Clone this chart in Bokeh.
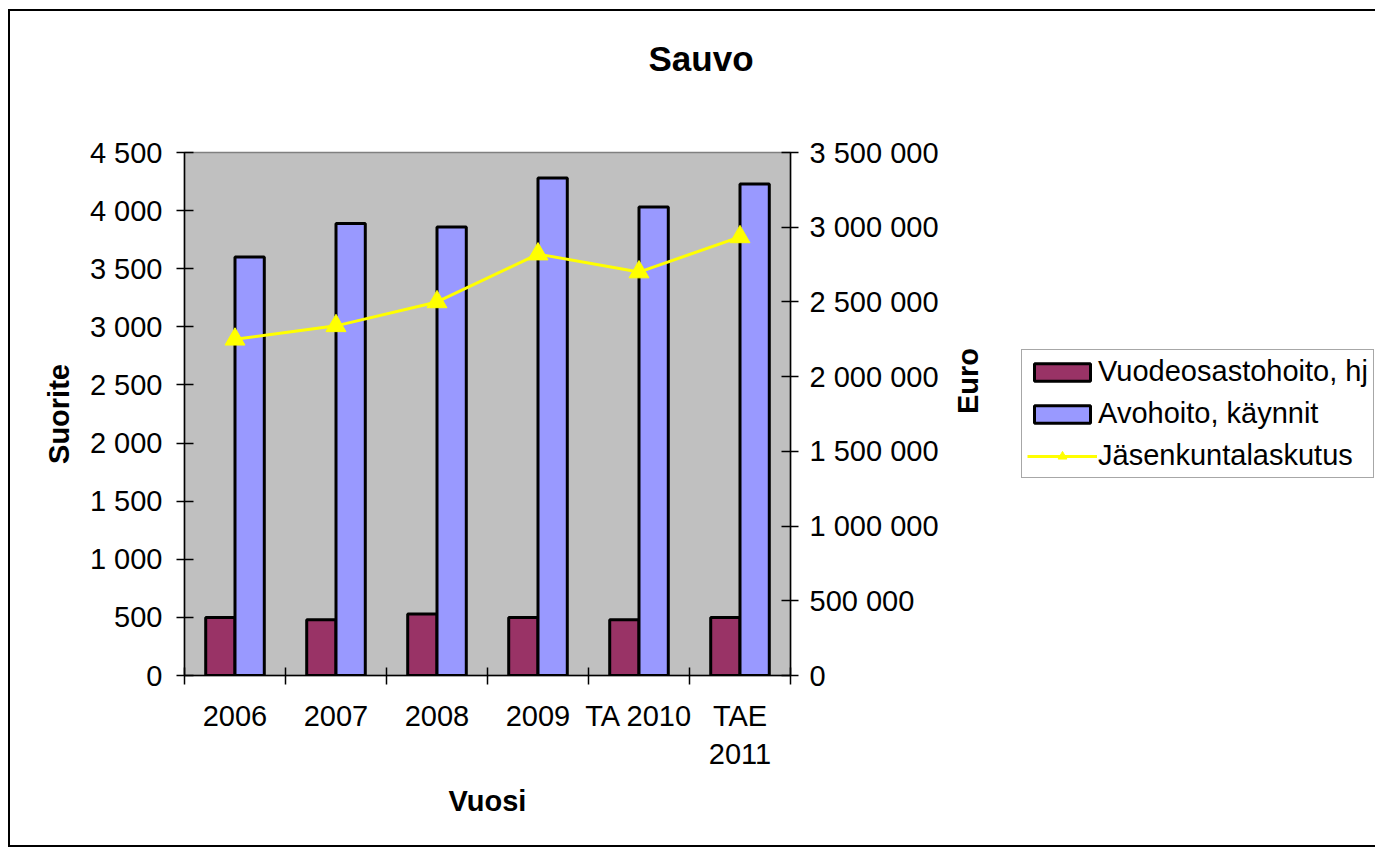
import math
from bokeh.plotting import figure
from bokeh.models import (Range1d, LinearAxis, FixedTicker, Legend, LegendItem,
                          ColumnDataSource, Title)
from bokeh.transform import dodge
from bokeh.embed import file_html
from bokeh.resources import INLINE

# ---- data ----
years = ["2006", "2007", "2008", "2009", "TA 2010", "TAE\n2011"]
vuodeosastohoito = [500, 480, 530, 500, 480, 500]
avohoito = [3600, 3890, 3860, 4280, 4030, 4230]
jasenkuntalaskutus = [2250000, 2340000, 2500000, 2820000, 2700000, 2935000]
left_ticks = [0, 500, 1000, 1500, 2000, 2500, 3000, 3500, 4000, 4500]
right_ticks = [0, 500000, 1000000, 1500000, 2000000, 2500000, 3000000, 3500000]


def fmt(v):
    return f"{v:,}".replace(",", " ")


FONT = "Liberation Sans"
FS = "29px"

n = len(years)
centers = [i + 0.5 for i in range(n)]          # category slot centres
src = ColumnDataSource(dict(x=centers, year=years, vuode=vuodeosastohoito,
                            avo=avohoito, jasen=jasenkuntalaskutus))

p = figure(x_range=Range1d(0, n), y_range=Range1d(0, 4500),
           frame_width=606, frame_height=523,
           min_border_left=174, min_border_right=583,
           min_border_top=141, min_border_bottom=170,
           output_backend="svg", toolbar_location=None,
           x_axis_location=None, y_axis_location=None,
           background_fill_color="#C0C0C0", border_fill_color="white",
           outline_line_color="#808080", outline_line_width=1.5)
p.styles = {"border": "2px solid black", "margin-left": "8px", "margin-top": "9px"}
for g in p.grid:
    g.visible = False

# title (a thin spacer keeps it well above the plot area)
p.title.text = "Sauvo"
p.title.text_font = FONT
p.title.text_font_size = "35px"
p.title.text_font_style = "bold"
p.title.text_color = "black"
p.title.align = "left"
p.title.offset = 464
p.title.standoff = 0
spacer = Title(text=" ", text_font_size="1px", standoff=72)
p.add_layout(spacer, "above")

# left axis
yl = LinearAxis(ticker=FixedTicker(ticks=left_ticks),
                major_label_overrides={t: fmt(t) for t in left_ticks},
                axis_label="Suorite")
p.add_layout(yl, "left")

# right axis
p.extra_y_ranges = {"euro": Range1d(0, 3500000)}
yr = LinearAxis(y_range_name="euro", ticker=FixedTicker(ticks=right_ticks),
                major_label_overrides={t: fmt(t) for t in right_ticks},
                axis_label="Euro")
p.add_layout(yr, "right")
try:
    yr.axis_label_orientation = math.pi / 2
except Exception:
    pass

for ax in (yl, yr):
    ax.major_label_text_font = FONT
    ax.major_label_text_font_size = FS
    ax.major_label_text_color = "black"
    ax.axis_label_text_font = FONT
    ax.axis_label_text_font_size = FS
    ax.axis_label_text_font_style = "bold"
    ax.axis_label_text_color = "black"
    ax.axis_line_color = "black"
    ax.axis_line_width = 1.5
    ax.major_tick_line_color = "black"
    ax.major_tick_line_width = 1.5
    ax.major_tick_in = 9
    ax.major_tick_out = 8
    ax.minor_tick_line_color = None
yl.major_label_standoff = 14
yl.axis_label_standoff = 12
yr.major_label_standoff = 11
yr.axis_label_standoff = 26

# bottom: boundary tick axis + category label axis
bticks = list(range(n + 1))
xt = LinearAxis(ticker=FixedTicker(ticks=bticks),
                major_label_overrides={t: "" for t in bticks},
                major_label_text_font_size="1px", major_label_standoff=0,
                axis_line_color="black", axis_line_width=1.5,
                major_tick_line_color="black", major_tick_line_width=1.5,
                major_tick_in=8, major_tick_out=9, minor_tick_line_color=None)
p.add_layout(xt, "below")

xc = LinearAxis(ticker=FixedTicker(ticks=centers),
                major_label_overrides={c: y for c, y in zip(centers, years)},
                axis_line_color=None, major_tick_line_color=None,
                minor_tick_line_color=None,
                major_tick_in=0, major_tick_out=0,
                major_label_text_font=FONT, major_label_text_font_size=FS,
                major_label_text_color="black", major_label_standoff=15,
                axis_label="Vuosi", axis_label_text_font=FONT,
                axis_label_text_font_size=FS, axis_label_text_font_style="bold",
                axis_label_text_color="black", axis_label_standoff=12)
p.add_layout(xc, "below")

# bars
r1 = p.vbar(x=dodge("x", -0.145), top="vuode", width=0.29,
            source=src, fill_color="#993366", line_color="black", line_width=3)
r2 = p.vbar(x=dodge("x", 0.145), top="avo", width=0.29,
            source=src, fill_color="#9999FF", line_color="black", line_width=3)

# line
r3 = p.line(x="x", y="jasen", source=src, y_range_name="euro",
            line_color="#FFFF00", line_width=3)
r4 = p.scatter(x="x", y="jasen", source=src, y_range_name="euro",
               marker="triangle", size=20, fill_color="#FFFF00",
               line_color="#FFFF00")

legend = Legend(items=[LegendItem(label="Vuodeosastohoito, hj", renderers=[r1]),
                       LegendItem(label="Avohoito, käynnit", renderers=[r2]),
                       LegendItem(label="Jäsenkuntalaskutus", renderers=[r3, r4])],
                location=(-198, 197),
                label_text_font=FONT, label_text_font_size=FS,
                label_text_color="black",
                glyph_width=70, glyph_height=22, label_standoff=1,
                padding=5, spacing=9, margin=0,
                border_line_color="#505050", border_line_width=1.5,
                background_fill_color="white", background_fill_alpha=1.0)
p.add_layout(legend, "right")

open("out.html", "w").write(file_html(p, INLINE))
